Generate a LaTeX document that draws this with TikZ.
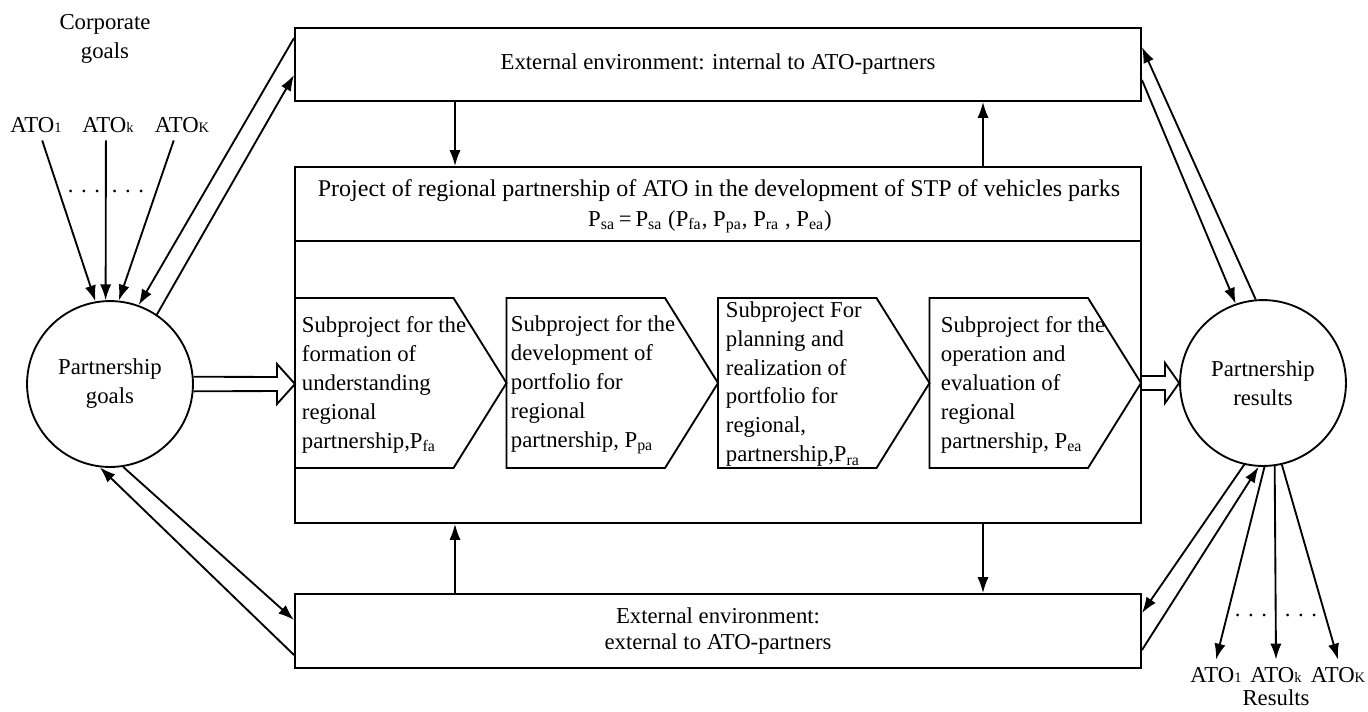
\documentclass[tikz,border=0pt]{standalone}
\usepackage{fontspec}
\setmainfont{Liberation Serif}
\usetikzlibrary{arrows.meta}

\begin{document}
\begin{tikzpicture}[x=0.017cm, y=-0.017cm, line width=0.9pt,
    font=\fontsize{11}{14}\selectfont,
    arr/.style={-{Latex[length=2.7mm,width=1.9mm]}},
    envbox/.style={draw, minimum width=14.382cm, inner sep=0pt, align=center},
    goal/.style={draw, circle, minimum size=2.82cm, inner sep=0pt, align=center},
    chevtext/.style={anchor=west, align=left, inner sep=0pt}]
  \useasboundingbox (0,0) rectangle (1368,711);

  % Environment boxes and the project box
  \node[envbox, minimum height=1.241cm] (inner) at (718,64.5) {External environment: internal to ATO-partners};
  \node[envbox, minimum height=6.052cm] (proj) at (718,345) {};
  \node[envbox, minimum height=1.258cm, font=\fontsize{11}{12.5}\selectfont] (outer) at (718,631) {External environment:\\ external to ATO-partners};

  % Project header
  \draw (proj.west |- 0,241) -- (proj.east |- 0,241);
  \node[font=\fontsize{11.6}{14}\selectfont] (ptitle) at (719,191) {Project of regional partnership of ATO in the development of STP of vehicles parks};
  \node (pformula) at (710,222) {P\textsubscript{sa}\,=\,P\textsubscript{sa} (P\textsubscript{fa}, P\textsubscript{pa}, P\textsubscript{ra} , P\textsubscript{ea})};

  % Subprojects
  \draw (295,298) -- (453.5,298) -- (506.5,383) -- (453.5,468) -- (295,468) -- cycle;
  \draw (506.5,298) -- (665,298) -- (718,383) -- (665,468) -- (506.5,468) -- cycle;
  \draw (718,298) -- (876.5,298) -- (929.5,383) -- (876.5,468) -- (718,468) -- cycle;
  \draw (929.5,298) -- (1088,298) -- (1141,383) -- (1088,468) -- (929.5,468) -- cycle;
  \node[chevtext] (sub1) at (301,385) {Subproject for the\\formation of\\understanding\\regional\\partnership,P\textsubscript{fa}};
  \node[chevtext] (sub2) at (510,385) {Subproject for the\\development of\\portfolio for\\regional\\partnership, P\textsubscript{pa}};
  \node[chevtext] (sub3) at (725,384) {Subproject For\\planning and\\realization of\\portfolio for\\regional,\\partnership,P\textsubscript{ra}};
  \node[chevtext] (sub4) at (940,385) {Subproject for the\\operation and\\evaluation of\\regional\\partnership, P\textsubscript{ea}};
  \coordinate (subin) at (295,384);

  % Goals and results
  \node[goal] (pgoal) at (110,384) {Partnership\\goals};
  \node[goal] (presult) at (1263,383) {Partnership\\results};

  % Wide arrows into and out of the project
  \draw (pgoal.5) -- (277,377) -- (277,364) -- (subin) -- (277,404) -- (277,391) -- (pgoal.-5);
  \draw (proj.east |- 0,376) -- (1165,376) -- (1165,363) -- (presult.west) -- (1165,403) -- (1165,390) -- (proj.east |- 0,390);

  % Links between environment and project
  \draw[arr] (inner.south -| 455,0) -- (proj.north -| 455,0);
  \draw[arr] (proj.north -| 983,0) -- (inner.south -| 983,0);
  \draw[arr] (outer.north -| 455,0) -- (proj.south -| 455,0);
  \draw[arr] (proj.south -| 983,0) -- (outer.north -| 983,0);

  % Links between circles and environment
  \draw[arr] (inner.west |- 0,38) -- (pgoal.70);
  \draw[arr] (pgoal.56) -- (inner.west |- 0,75);
  \draw[arr] (outer.west |- 0,655) -- (pgoal.263);
  \draw[arr] (pgoal.279) -- (outer.west |- 0,620);
  \draw[arr] (presult.95) -- (inner.east |- 0,47);
  \draw[arr] (inner.east |- 0,80) -- (presult.109);
  \draw[arr] (presult.257) -- (outer.east |- 0,613);
  \draw[arr] (outer.east |- 0,650) -- (presult.267);

  % Corporate goals
  \node[align=center] (corp) at (105,39) {Corporate\\goals};
  \node (gato1) at (36,125) {ATO{\scriptsize 1}};
  \node (gatok) at (108,125) {ATO{\scriptsize k}};
  \node (gatoK) at (182,125) {ATO{\scriptsize K}};
  \node (gdots1) at (84,191) {. . .};
  \node (gdots2) at (128,191) {. . .};
  \draw[arr] ([xshift=3pt]gato1.south) -- (pgoal.100);
  \draw[arr] ([xshift=-1pt]gatok.south) -- (pgoal.93);
  \draw[arr] ([xshift=-4pt]gatoK.south) -- (pgoal.84);

  % Results
  \node (rato1) at (1216,675) {ATO{\scriptsize 1}};
  \node (ratok) at (1276,675) {ATO{\scriptsize k}};
  \node (ratoK) at (1338,675) {ATO{\scriptsize K}};
  \node (rlabel) at (1276,698) {Results};
  \node (rdots1) at (1251,615) {. . .};
  \node (rdots2) at (1301,615) {. . .};
  \draw[arr] (presult.271) -- (rato1.north);
  \draw[arr] (presult.278) -- (ratok.north);
  \draw[arr] (presult.283) -- (ratoK.north);
\end{tikzpicture}
\end{document}
